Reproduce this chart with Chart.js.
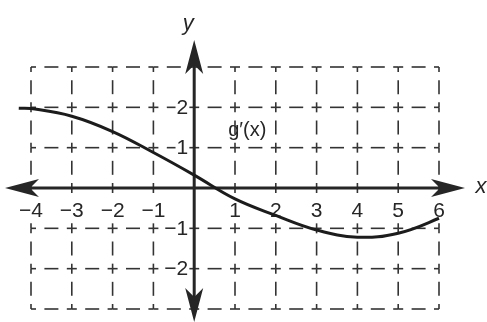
<!DOCTYPE html>
<html>
<head>
<meta charset="utf-8">
<script src="https://cdn.jsdelivr.net/npm/chart.js@4/dist/chart.umd.min.js"></script>
<style>
  html, body { margin: 0; padding: 0; background: #fff; }
  #wrap { width: 487px; height: 322px; position: relative; }
</style>
</head>
<body>
<div id="wrap"><canvas id="chart"></canvas></div>
<script>
// curve g'(x)
var xValues = [-4.3, -4, -3, -2, -1, 0, 1, 2, 3, 4, 5, 6, 6.3];
var yValues = [1.98, 1.97, 1.78, 1.4, 0.88, 0.32, -0.27, -0.68, -1.04, -1.22, -1.12, -0.75, -0.58];

var xGrid = [-4, -3, -2, -1, 0, 1, 2, 3, 4, 5, 6];
var yGrid = [-3, -2, -1, 0, 1, 2, 3];
var xTickLabels = ['\u22124', '\u22123', '\u22122', '\u22121', '', '1', '2', '3', '4', '5', '6'];
var yTickValues = [-2, -1, 1, 2];
var yTickLabels = ['\u22122', '\u22121', '1', '2'];

var points = xValues.map(function(x, i) { return {x: x, y: yValues[i]}; });

var INK = '#262626';
var FONT = '"Liberation Sans", Arial, sans-serif';

function arrow(ctx, tx, ty, dx, dy) {
    // barbed arrow head, tip at (tx,ty), pointing along (dx,dy)
    var px = -dy, py = dx;
    ctx.beginPath();
    ctx.moveTo(tx, ty);
    ctx.lineTo(tx - dx * 34 + px * 9, ty - dy * 34 + py * 9);
    ctx.lineTo(tx - dx * 25, ty - dy * 25);
    ctx.lineTo(tx - dx * 34 - px * 9, ty - dy * 34 - py * 9);
    ctx.closePath();
    ctx.fill();
}

function dashedSeg(ctx, horiz, fixed, a, b) {
    var mid = (a + b) / 2;
    var segs = [[a, a + 5], [mid - 7, mid + 7], [b - 5, b]];
    segs.forEach(function(s) {
        ctx.beginPath();
        if (horiz) { ctx.moveTo(s[0], fixed); ctx.lineTo(s[1], fixed); }
        else { ctx.moveTo(fixed, s[0]); ctx.lineTo(fixed, s[1]); }
        ctx.stroke();
    });
}

var axesPlugin = {
    id: 'axesPlugin',
    beforeDatasetsDraw: function(chart) {
        var ctx = chart.ctx;
        var xs = chart.scales.x, ys = chart.scales.y;
        var x0 = xs.getPixelForValue(0), y0 = ys.getPixelForValue(0);
        ctx.save();
        // dashed grid
        ctx.strokeStyle = '#333';
        ctx.lineWidth = 1.6;
        yGrid.forEach(function(v) {
            var py = ys.getPixelForValue(v);
            for (var i = 0; i < xGrid.length - 1; i++) {
                dashedSeg(ctx, true, py, xs.getPixelForValue(xGrid[i]), xs.getPixelForValue(xGrid[i + 1]));
            }
        });
        xGrid.forEach(function(v) {
            var px = xs.getPixelForValue(v);
            for (var i = 0; i < yGrid.length - 1; i++) {
                dashedSeg(ctx, false, px, ys.getPixelForValue(yGrid[i + 1]), ys.getPixelForValue(yGrid[i]));
            }
        });

        // tick labels
        ctx.font = '21px ' + FONT;
        ctx.fillStyle = INK;
        ctx.textBaseline = 'middle';
        ctx.textAlign = 'center';
        xGrid.forEach(function(v, i) {
            var t = xTickLabels[i];
            if (!t) return;
            var px = xs.getPixelForValue(v);
            var w = ctx.measureText(t).width;
            ctx.fillStyle = '#fff';
            ctx.fillRect(px - w / 2 - 1, y0 + 12, w + 2, 22);
            ctx.fillStyle = INK;
            ctx.fillText(t, px, y0 + 23);
        });
        ctx.textAlign = 'right';
        yTickValues.forEach(function(v, i) {
            var py = ys.getPixelForValue(v);
            var t = yTickLabels[i];
            var w = ctx.measureText(t).width;
            ctx.fillStyle = '#fff';
            ctx.fillRect(x0 - 6 - w - 1, py - 10, w + 2, 20);
            ctx.fillStyle = INK;
            ctx.fillText(t, x0 - 6, py + 1);
        });

        // axes with arrows
        ctx.strokeStyle = INK;
        ctx.fillStyle = INK;
        ctx.lineWidth = 3;
        var left = 5, right = 465, top = 40, bottom = 322;
        ctx.beginPath();
        ctx.moveTo(left + 20, y0); ctx.lineTo(right - 20, y0);
        ctx.moveTo(x0, top + 20); ctx.lineTo(x0, bottom - 20);
        ctx.stroke();
        arrow(ctx, left, y0, -1, 0);
        arrow(ctx, right, y0, 1, 0);
        arrow(ctx, x0, top, 0, -1);
        arrow(ctx, x0, bottom, 0, 1);

        // axis names and curve label
        ctx.font = 'italic 22px ' + FONT;
        ctx.textAlign = 'center';
        ctx.fillText('y', x0 - 6, 24);
        ctx.fillText('x', 481, y0 - 1);
        ctx.font = '20px ' + FONT;
        ctx.fillText('g\u2032(x)', xs.getPixelForValue(1.3), ys.getPixelForValue(1.42));
        ctx.restore();
    }
};

var ctx = document.getElementById('chart').getContext('2d');
var chart = new Chart(ctx, {
    type: 'line',
    data: {
        datasets: [{
            data: points,
            borderColor: '#1c1c1c',
            borderWidth: 3,
            pointRadius: 0,
            tension: 0.4,
            fill: false,
            clip: false
        }]
    },
    options: {
        responsive: true,
        maintainAspectRatio: false,
        animation: false,
        layout: { padding: { left: 31, right: 48, top: 67, bottom: 13 } },
        plugins: { legend: { display: false }, tooltip: { enabled: false } },
        scales: {
            x: { type: 'linear', min: -4, max: 6, display: false },
            y: { type: 'linear', min: -3, max: 3, display: false }
        }
    },
    plugins: [axesPlugin]
});
</script>
</body>
</html>
